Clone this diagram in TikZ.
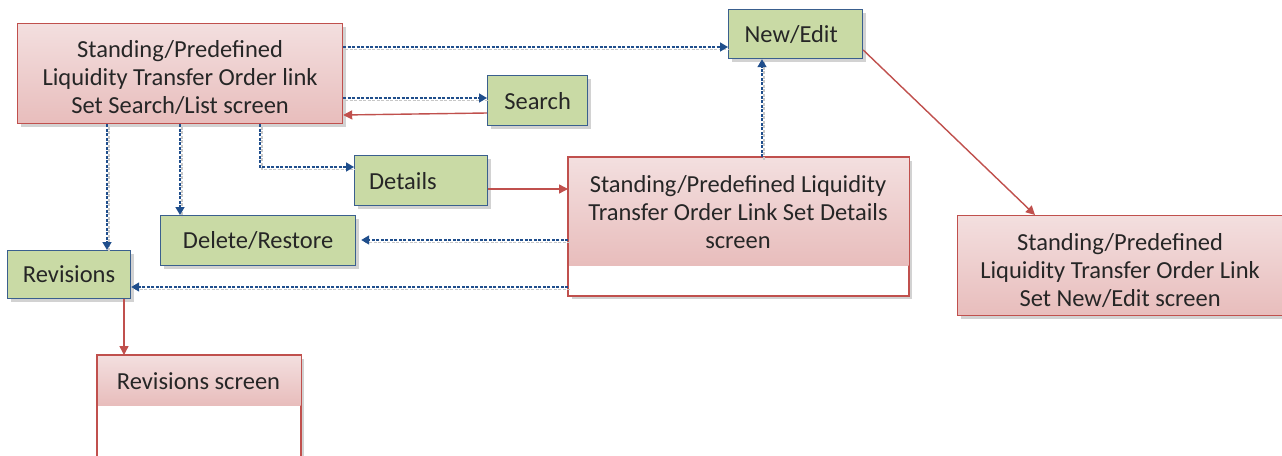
\documentclass[tikz,border=0pt]{standalone}
\usepackage{fontspec}
\setmainfont{Carlito}
\usetikzlibrary{arrows.meta,shadows,calc}
\definecolor{pinkT}{HTML}{F3DFDF}
\definecolor{pinkB}{HTML}{E8BDBC}
\definecolor{redB}{HTML}{C0504D}
\definecolor{greenF}{HTML}{C9DAA5}
\definecolor{blueB}{HTML}{3A5F8E}
\definecolor{blueL}{HTML}{1F4E8C}
\definecolor{txt}{HTML}{262626}
\tikzset{
  shad/.style={drop shadow={shadow xshift=3pt,shadow yshift=-3pt,fill=black!35,opacity=0.5}},
  screenbox/.style={shad,draw=redB,line width=1.2pt,top color=pinkT,bottom color=pinkB,
     anchor=north west,inner sep=0pt},
  greenbox/.style={shad,draw=blueB,line width=1.2pt,fill=greenF,anchor=north west,
     inner sep=0pt,align=center,text=txt,font=\fontsize{24.5}{28}\selectfont},
  plaintext/.style={inner sep=0pt,align=center,text=txt,font=\fontsize{24.5}{28}\selectfont},
  navlink/.style={draw=blueL,line width=1.5pt,dash pattern=on 3pt off 1.5pt,
     -{Triangle[length=8pt,width=9pt]},
     preaction={draw=black!22,line width=1.5pt,dash pattern=on 3pt off 1.5pt,-,
       transform canvas={shift={(2pt,-2.5pt)}}}},
  redlink/.style={draw=redB,line width=1.4pt,-{Triangle[length=9pt,width=9pt]}},
}
\begin{document}
\begin{tikzpicture}[x=1pt,y=-1pt]
\useasboundingbox[fill=white] (0,0) rectangle (1282,455);

% main search/list screen
\node[screenbox,minimum width=325pt,minimum height=100pt] (main) at (17,23) {};
\node[plaintext] (maintext) at ([yshift=-4pt]main.center)
  {Standing/Predefined\\Liquidity Transfer Order link\\Set Search/List screen};

% new/edit screen
\node[screenbox,minimum width=325pt,minimum height=100pt] (nescreen) at (957,215) {};
\node[plaintext] (netext) at ([yshift=-5pt]nescreen.center)
  {Standing/Predefined\\Liquidity Transfer Order Link\\Set New/Edit screen};

% details screen
\node[shad,draw=redB,line width=1.2pt,fill=white,anchor=north west,inner sep=0pt,
  minimum width=340pt,minimum height=138pt] (dscreen) at (568,157) {};
\fill[top color=pinkT,bottom color=pinkB] ([shift={(0.6pt,-0.6pt)}]dscreen.north west) rectangle ([shift={(-0.6pt,0)}]dscreen.east |- 0,265);
\draw[redB,line width=1.2pt] (dscreen.north west) rectangle (dscreen.south east);
\node[plaintext] (dtext) at (738,212)
  {Standing/Predefined Liquidity\\Transfer Order Link Set Details\\screen};

% revisions screen
\node[shad,draw=redB,line width=1.2pt,fill=white,anchor=north west,inner sep=0pt,
  minimum width=203pt,minimum height=106pt] (revscreen) at (97,355) {};
\fill[top color=pinkT,bottom color=pinkB] ([shift={(0.6pt,-0.6pt)}]revscreen.north west) rectangle ([shift={(-0.6pt,0)}]revscreen.east |- 0,405);
\draw[redB,line width=1.2pt] (revscreen.north west) rectangle (revscreen.south east);
\node[plaintext] (rtext) at (198.5,381) {Revisions screen};

% green action boxes
\node[greenbox,minimum width=134pt,minimum height=49pt,text width=120pt,align=left] (newedit) at (728,9) {\hspace*{9pt}New/Edit};
\node[greenbox,minimum width=100pt,minimum height=50pt] (search) at (487,75) {Search};
\node[greenbox,minimum width=133pt,minimum height=50pt,text width=120pt,align=left] (details) at (354,155) {\hspace*{8pt}Details};
\node[greenbox,minimum width=195pt,minimum height=50pt] (delres) at (160,215) {Delete/Restore};
\node[greenbox,minimum width=123pt,minimum height=48pt] (rev) at (7,250) {Revisions};

% connectors
\draw[navlink] (main.east |- 0,47) -- (newedit.west |- 0,47);
\draw[navlink] (main.east |- 0,98) -- (search.west |- 0,98);
\draw[redlink] (search.west |- 0,113) -- (main.east |- 0,115);
\draw[navlink] (main.south -| 260,0) |- (details.west |- 0,167);
\draw[navlink] (main.south -| 180,0) -- (delres.north -| 180,0);
\draw[navlink] (main.south -| 107,0) -- (rev.north -| 107,0);
\draw[redlink] (details.east |- 0,189) -- (dscreen.west |- 0,189);
\draw[navlink] (dscreen.north -| 762,0) -- (newedit.south -| 762,0);
\draw[navlink] (dscreen.west |- 0,240) -- ($(delres.east |- 0,240)+(5,0)$);
\draw[navlink] (dscreen.west |- 0,287) -- (rev.east |- 0,287);
\draw[redlink] (rev.south -| 124,0) -- (revscreen.north -| 124,0);
\draw[redlink] (newedit.east |- 0,50) -- (nescreen.north -| 1035,0);
\end{tikzpicture}
\end{document}
